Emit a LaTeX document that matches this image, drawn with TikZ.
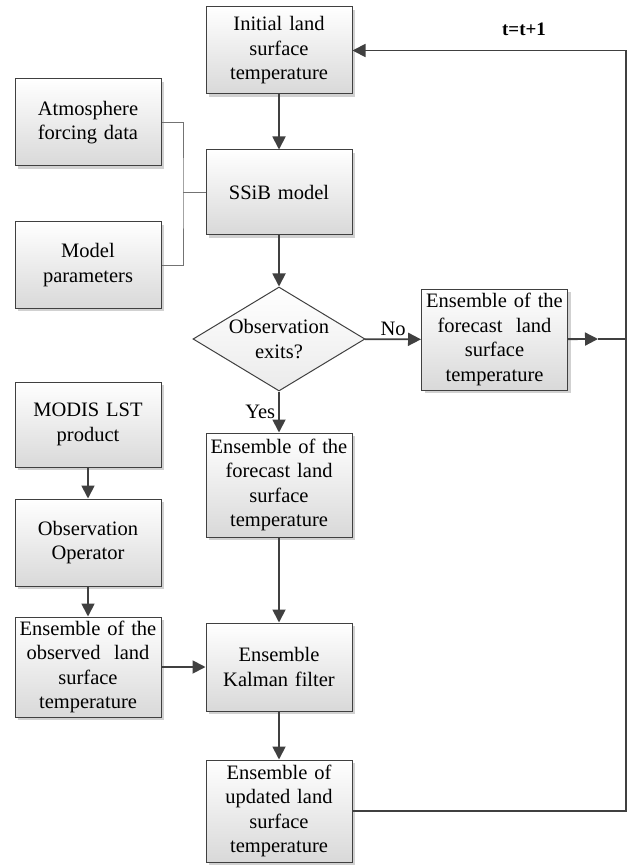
\documentclass[tikz,border=0pt]{standalone}
\usepackage{fontspec}
\setmainfont{Liberation Serif}
\usetikzlibrary{arrows.meta,shapes.geometric,shadows}
\begin{document}
\begin{tikzpicture}[x=1pt,y=-1pt,
  txt/.style={font=\fontsize{20.5}{24.5}\selectfont},
  box/.style={txt, draw=black!75, line width=1pt, top color=white, bottom color=black!15,
    drop shadow={shadow xshift=3pt,shadow yshift=-3pt,fill=black!18,opacity=1},
    align=center, inner sep=2pt, minimum width=146pt, text width=140pt},
  dia/.style={txt, draw=black!75, line width=1pt, diamond, aspect=1.65, inner sep=0pt,
    minimum width=172pt, minimum height=104pt, top color=white, bottom color=black!8, align=center},
  arr/.style={draw=black!75, line width=1.8pt, -{Triangle[length=13pt,width=13pt]}},
  ln/.style={draw=black!75, line width=1.8pt},
  br/.style={draw=black!55, line width=0.8pt},
  lbl/.style={txt, inner sep=3pt}
]
\useasboundingbox (0,0) rectangle (631,866);
\fill[white] (0,0) rectangle (631,866);

\node[box, minimum height=87pt] (init) at (279,50.5) {Initial land\\surface\\temperature};
\node[box, minimum height=87pt] (atm) at (88,122.5) {Atmosphere\\forcing data};
\node[box, minimum height=85pt] (ssib) at (279,192.5) {SSiB model};
\node[box, minimum height=86pt] (mp) at (88,265) {Model\\parameters};
\node[dia] (obs) at (279,339) {Observation\\exits?};
\node[box, minimum height=101pt] (rf) at (494.5,339.5) {Ensemble of the\\forecast\ \ land\\surface\\temperature};
\node[box, minimum height=104pt] (cf) at (279,485) {Ensemble of the\\forecast land\\surface\\temperature};
\node[box, minimum height=85pt] (modis) at (88,424.5) {MODIS LST\\product};
\node[box, minimum height=87pt] (oo) at (88,542.5) {Observation\\Operator};
\node[box, minimum height=100pt] (oe) at (88,667) {Ensemble of the\\observed\ \ land\\surface\\temperature};
\node[box, minimum height=88pt] (enkf) at (279,667) {Ensemble\\Kalman filter};
\node[box, minimum height=102pt] (upd) at (279,811) {Ensemble of\\updated land\\surface\\temperature};
\node[font=\bfseries\fontsize{19}{22}\selectfont, inner sep=0pt] (tl) at (524,29) {t=t+1};

\coordinate (j) at (183,192.5);
\coordinate (fb) at (626,339);
\coordinate (mida) at (598,339);

\draw[br] (atm.east) -| (j) |- (mp.east);
\draw[br] (j) -- (ssib.west);

\draw[arr] (init) -- (ssib);
\draw[arr] (ssib) -- (obs);
\draw[arr] (obs) -- node[lbl, above] {No} (rf);
\draw[arr] (obs) -- node[lbl, left] {Yes} (cf);
\draw[arr] (cf) -- (enkf);
\draw[arr] (oe) -- (enkf);
\draw[arr] (enkf) -- (upd);
\draw[arr] (modis) -- (oo);
\draw[arr] (oo) -- (oe);
\draw[arr] (rf) -- (mida);
\draw[ln] (mida) -- (fb);
\draw[arr] (upd.east) -| (fb) |- (init.east);
\end{tikzpicture}
\end{document}
